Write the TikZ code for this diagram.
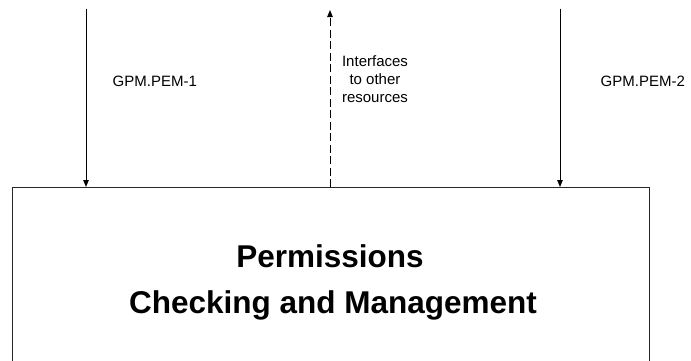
\documentclass[tikz,border=0pt]{standalone}
\usepackage{fontspec}
\setmainfont{Liberation Sans}
\usetikzlibrary{arrows.meta}
\begin{document}
\begin{tikzpicture}[x=1pt,y=-1pt,
  arr/.style={line width=0.9pt, -{Triangle[length=7pt,width=5.5pt]}},
  dasharr/.style={arr, dash pattern=on 8pt off 3.5pt},
  boxstyle/.style={draw=black!85, line width=1.1pt, inner sep=0pt, anchor=north west,
    minimum width=637.5pt, minimum height=200pt},
  title/.style={font=\fontsize{31.5}{45}\selectfont\bfseries, inner sep=0pt, anchor=base},
  lbl/.style={font=\fontsize{15}{17.8}\selectfont, inner sep=0pt}]
\clip (0,0) rectangle (691,360);
\fill[white] (0,0) rectangle (691,360);
\node[boxstyle] (box) at (11.5,187) {};
\node[title] (t1) at (330,267) {Permissions};
\node[title] (t2) at (333,313) {Checking and Management};
\coordinate (s1) at (86,8.5);
\coordinate (s2) at (560,8.5);
\coordinate (s3) at (330,10);
\draw[arr] (s1) -- (s1 |- box.north);
\draw[arr] (s2) -- (s2 |- box.north);
\draw[dasharr] (s3 |- box.north) -- (s3);
\node[lbl, anchor=base west] (l1) at (112.5,86) {GPM.PEM-1};
\node[lbl, anchor=base west] (l2) at (600.5,86) {GPM.PEM-2};
\node[lbl, align=center, anchor=base] (l3) at (375,102) {Interfaces\\to other\\resources};
\end{tikzpicture}
\end{document}
